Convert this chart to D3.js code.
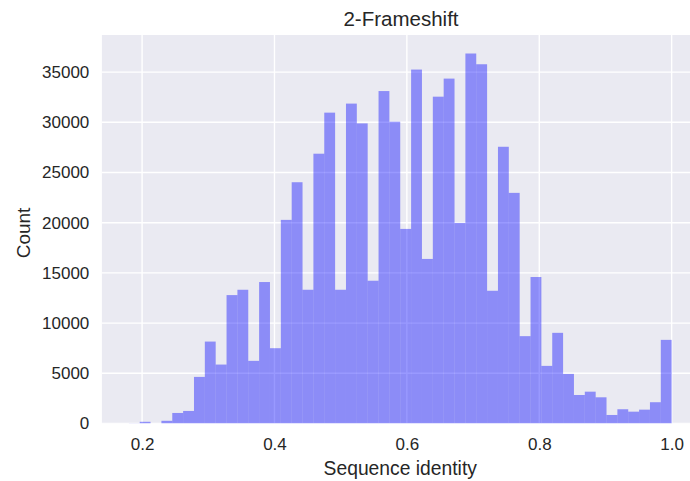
<!DOCTYPE html>
<html>
<head>
<meta charset="utf-8">
<script src="https://cdn.jsdelivr.net/npm/d3@7"></script>
<style>
  html, body { margin: 0; padding: 0; background: #ffffff; }
  svg { display: block; }
  text { font-family: "Liberation Sans", Arial, sans-serif; fill: #262626; }
</style>
</head>
<body>
<svg id="chart" width="690" height="481"></svg>
<script>
// ---- data ----
const binStart = 0.18;
const binEnd = 1.0;
const counts = [
  20, 170, 0, 270, 1050, 1250, 4640, 8160, 5870, 12790,
  13320, 6240, 14090, 7500, 20280, 24030, 13320, 26870, 30960, 13320,
  31860, 29890, 14220, 33110, 30060, 19380, 35250, 16390, 32550, 34350,
  19980, 36850, 35780, 13220, 27560, 22970, 8700, 14590, 5740, 9030,
  4940, 2840, 3170, 2610, 850, 1420, 1180, 1380, 2120, 8330
];
const xTicks = [0.2, 0.4, 0.6, 0.8, 1.0];
const yTicks = [0, 5000, 10000, 15000, 20000, 25000, 30000, 35000];
const title = "2-Frameshift";
const xLabel = "Sequence identity";
const yLabel = "Count";

// ---- layout ----
const W = 690, H = 481;
const plot = { left: 101.7, top: 35, right: 698.8, bottom: 423.5 };

const svg = d3.select("#chart");

const nBins = counts.length;
const binW = (binEnd - binStart) / nBins;
const bins = counts.map((c, i) => ({ x0: binStart + i * binW, x1: binStart + (i + 1) * binW, c }));

const pad = 0.05 * (binEnd - binStart);
const x = d3.scaleLinear().domain([binStart - pad, binEnd + pad]).range([plot.left, plot.right]);
const y = d3.scaleLinear().domain([0, d3.max(counts) * 1.05]).range([plot.bottom, plot.top]);

svg.append("defs").append("clipPath").attr("id", "clip")
  .append("rect").attr("x", plot.left).attr("y", plot.top)
  .attr("width", plot.right - plot.left).attr("height", plot.bottom - plot.top);

const g = svg.append("g").attr("clip-path", "url(#clip)");

g.append("rect")
  .attr("x", plot.left).attr("y", plot.top)
  .attr("width", plot.right - plot.left).attr("height", plot.bottom - plot.top)
  .attr("fill", "#EAEAF2");

// grid
g.selectAll("line.gx").data(xTicks).enter().append("line")
  .attr("x1", d => x(d)).attr("x2", d => x(d))
  .attr("y1", plot.top).attr("y2", plot.bottom)
  .attr("stroke", "#ffffff").attr("stroke-width", 1.4);
g.selectAll("line.gy").data(yTicks).enter().append("line")
  .attr("x1", plot.left).attr("x2", plot.right)
  .attr("y1", d => y(d)).attr("y2", d => y(d))
  .attr("stroke", "#ffffff").attr("stroke-width", 1.4);

// bars
g.selectAll("rect.bar").data(bins).enter().append("rect")
  .attr("class", "bar")
  .attr("x", d => x(d.x0))
  .attr("width", d => x(d.x1) - x(d.x0))
  .attr("y", d => y(d.c))
  .attr("height", d => y(0) - y(d.c))
  .attr("fill", "#0000ff").attr("fill-opacity", 0.4);

// axes (labels only, no spines/ticks)
const xAxis = d3.axisBottom(x).tickValues(xTicks).tickFormat(d3.format(".1f")).tickSize(0).tickPadding(14.5);
const xg = svg.append("g").attr("transform", `translate(0,${plot.bottom})`).call(xAxis);
xg.select(".domain").remove();
xg.selectAll("text").attr("font-size", 17).attr("fill", "#262626")
  .attr("font-family", "Liberation Sans, Arial, sans-serif");

const yAxis = d3.axisLeft(y).tickValues(yTicks).tickFormat(d3.format("d")).tickSize(0).tickPadding(12.4);
const yg = svg.append("g").attr("transform", `translate(${plot.left},0)`).call(yAxis);
yg.select(".domain").remove();
yg.selectAll("text").attr("font-size", 17).attr("fill", "#262626")
  .attr("font-family", "Liberation Sans, Arial, sans-serif");

// title and labels
svg.append("text").attr("x", 401).attr("y", 26)
  .attr("text-anchor", "middle").attr("font-size", 20.5).text(title);
svg.append("text").attr("x", (plot.left + plot.right) / 2).attr("y", 474.5)
  .attr("text-anchor", "middle").attr("font-size", 19.3).text(xLabel);
svg.append("text")
  .attr("transform", `translate(30,233) rotate(-90)`)
  .attr("text-anchor", "middle").attr("font-size", 19).text(yLabel);
</script>
</body>
</html>
